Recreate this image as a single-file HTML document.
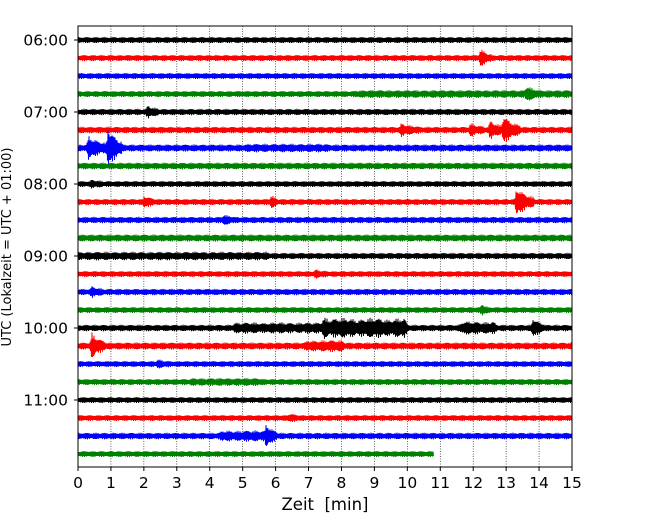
<!DOCTYPE html>
<html><head><meta charset="utf-8"><style>
html,body{margin:0;padding:0;background:#fff;}
svg{display:block;font-family:"DejaVu Sans","Liberation Sans",sans-serif;}
</style></head><body>
<svg id="chart" width="650" height="520" viewBox="0 0 650 520">
<g id="grid"></g>
<g id="traces"></g>
<rect x="78" y="26" width="494" height="441" fill="none" stroke="#000" stroke-width="1"/>
<g id="xaxis"></g>
<g id="yaxis"></g>
<text x="325" y="510" font-size="16.5" text-anchor="middle" style="white-space:pre">Zeit  [min]</text>
<text transform="translate(11,247) rotate(-90)" font-size="13" text-anchor="middle">UTC (Lokalzeit = UTC + 01:00)</text>
</svg>
<script>
const xTicks=[0,1,2,3,4,5,6,7,8,9,10,11,12,13,14,15];
const yTickLabels=["06:00","07:00","08:00","09:00","10:00","11:00"];
const traceColors=["#000000","#ff0000","#0000ff","#008000"];
const traceCount=24;
const traceBackground=[2.6,2.6,2.5,2.6,2.7,2.8,3.1,2.9,2.5,2.6,2.7,3.1,2.7,2.5,2.7,2.5,2.8,3.1,2.5,2.6,2.5,2.5,2.8,2.5];
const traceEnd=[15,15,15,15,15,15,15,15,15,15,15,15,15,15,15,15,15,15,15,15,15,15,15,10.8];
// events: [trace, start, end, amplitude, spiky(1)/block(0)]
const events=[
[1,12.2,12.5,7,1],[3,8.5,15,1.0,0],[3,13.6,13.9,5,1],[4,2.1,2.4,4,1],
[5,9.8,10.3,4,1],[5,11.9,12.3,4,1],[5,12.5,12.9,7,1],[5,12.9,13.4,12,1],
[6,0.3,0.9,9,1],[6,0.9,1.3,19,1],[6,5.2,7.5,0.8,0],[8,0.4,0.7,2,1],
[9,2.0,2.3,4,1],[9,5.85,6.0,5,1],[9,13.3,13.8,13,1],[10,4.4,4.7,3,1],
[12,0,5.7,1.2,0],[13,7.2,7.5,2,1],[14,0.4,0.7,3,1],[15,12.25,12.4,4,1],
[16,4.8,7.5,2.5,0],[16,7.5,9.9,7,0],[16,11.7,12.6,3.5,0],[16,13.8,14.1,8,1],
[17,0.4,0.8,10,1],[17,7.0,8.0,2.5,0],[18,2.4,2.7,2,1],[19,3.5,5.5,1.0,0],
[21,6.4,6.7,2,1],[22,4.4,5.6,2.5,0],[22,5.7,6.0,10,1]
];
const X0=78,X1=572,Y0=26,Y1=467;
function xs(m){return X0+(m-xTicks[0])/(xTicks[xTicks.length-1]-xTicks[0])*(X1-X0);}
function yTrace(i){return 40+i*18;}
const NS="http://www.w3.org/2000/svg";
const grid=document.getElementById('grid');
xTicks.forEach(t=>{ if(t===0||t===15)return;
 const l=document.createElementNS(NS,'line');
 
 
 l.setAttribute('x1',xs(t));l.setAttribute('x2',xs(t));l.setAttribute('y1',Y0);l.setAttribute('y2',Y1);
 l.setAttribute('stroke','#000');l.setAttribute('stroke-width','0.6');l.setAttribute('stroke-dasharray','1,1.5');
 grid.appendChild(l);});
const xa=document.getElementById('xaxis');
xTicks.forEach(t=>{
 const l=document.createElementNS(NS,'line');
 
 
 l.setAttribute('x1',xs(t));l.setAttribute('x2',xs(t));l.setAttribute('y1',Y1);l.setAttribute('y2',Y1+4);l.setAttribute('stroke','#000');
 xa.appendChild(l);
 const tx=document.createElementNS(NS,'text');
 
 
 tx.setAttribute('x',xs(t));tx.setAttribute('y',Y1+21);tx.setAttribute('font-size','15.5');tx.setAttribute('text-anchor','middle');
 tx.textContent=t;xa.appendChild(tx);});
const ya=document.getElementById('yaxis');
yTickLabels.forEach((s,k)=>{const y=yTrace(k*4);
 const l=document.createElementNS(NS,'line');
 
 
 l.setAttribute('x1',X0-4);l.setAttribute('x2',X0);l.setAttribute('y1',y);l.setAttribute('y2',y);l.setAttribute('stroke','#000');
 ya.appendChild(l);
 const tx=document.createElementNS(NS,'text');
 
 
 tx.setAttribute('x',X0-10);tx.setAttribute('y',y+5.5);tx.setAttribute('font-size','15.5');tx.setAttribute('text-anchor','end');
 tx.textContent=s;ya.appendChild(tx);});
const tg=document.getElementById('traces');
function env(i,m,k){let a=traceBackground[i];
 events.forEach(e=>{if(e[0]!==i)return;const s=e[1],en=e[2],A=e[3],sp=e[4];
  let w=0;
  if(sp){const L=en-s;
   if(m>=s-0.04&&m<=en+0.05){w=Math.min(1,(m-s+0.04)/0.06)*Math.exp(-1.8*Math.max(0,m-s-0.03)/L);}
  } else {const r=0.08;
   if(m>=s&&m<=en)w=0.7+0.3*Math.abs(Math.sin(k*0.05+i));else if(m<s)w=Math.exp(-Math.pow((s-m)/r,2));else w=Math.exp(-Math.pow((m-en)/r,2));}
  a+=A*w;});return a;}
for(let i=0;i<traceCount;i++){
 const y=yTrace(i);let d='';let k=0;
 for(let px=xs(0);px<=xs(traceEnd[i]);px+=0.5,k++){
  const m=(px-X0)/(X1-X0)*15;
  const sgn=(k%2?1:-1);
  const mag=0.55+0.45*Math.abs(Math.sin(k*0.731+i*1.3)*Math.cos(k*0.177+i));
  const v=y+sgn*(mag*env(i,m,k)+0.5);
  d+=(k?'L':'M')+px.toFixed(1)+' '+v.toFixed(1);}
 const p=document.createElementNS(NS,'path');
 
 
 p.setAttribute('d',d);p.setAttribute('fill','none');p.setAttribute('stroke',traceColors[i%4]);p.setAttribute('stroke-width','1');
 tg.appendChild(p);}
</script>
</body></html>
